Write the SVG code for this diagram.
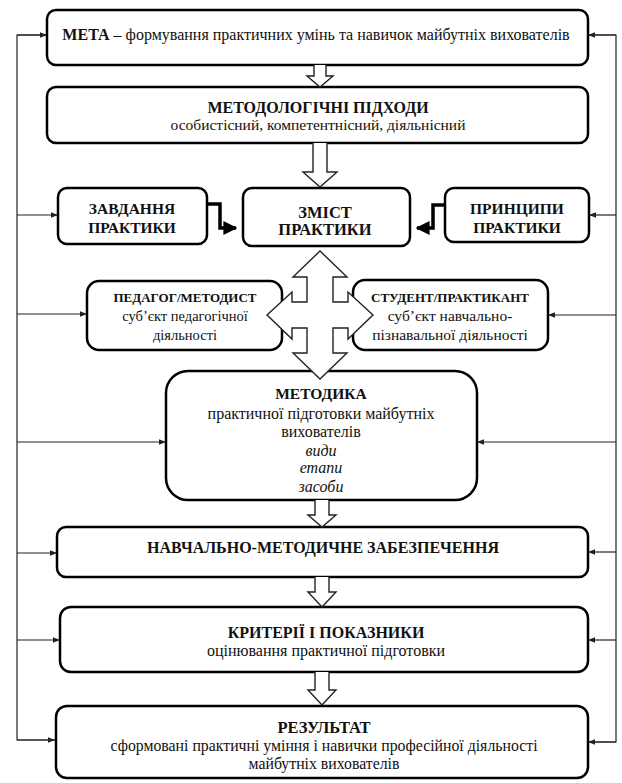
<svg xmlns="http://www.w3.org/2000/svg" width="622" height="783" viewBox="0 0 622 783">
<defs>
<marker id="ah" viewBox="0 0 10 10" refX="10" refY="5" markerWidth="8" markerHeight="7" orient="auto" markerUnits="userSpaceOnUse">
<path d="M0,1 L10,5 L0,9 Z" fill="#222"/>
</marker>
<marker id="ahb" viewBox="0 0 10 10" refX="9" refY="5" markerWidth="4" markerHeight="4" orient="auto">
<path d="M0,0 L10,5 L0,10 Z" fill="#000"/>
</marker>
<style>
.box{fill:#fff;stroke:#000;stroke-width:2.5}
.t{fill:#111;text-anchor:middle}
.b{font-weight:bold}
.i{font-style:italic}
.fb{fill:none;stroke:#222;stroke-width:1.2}
.blk{fill:#fff;stroke:#222;stroke-width:1.4;stroke-linejoin:miter}
.el{fill:none;stroke:#000;stroke-width:3.5}
</style>
</defs>
<rect width="622" height="783" fill="#fff"/>

<g id="connectors">
<polyline class="fb" points="47,35 17,35 17,740 55,740"/>
<polyline class="fb" points="588,35 616,35 616,742 588,742"/>
<line class="fb" x1="17" y1="35" x2="47" y2="35" marker-end="url(#ah)"/>
<line class="fb" x1="17" y1="740" x2="55" y2="740" marker-end="url(#ah)"/>
<line class="fb" x1="616" y1="35" x2="588" y2="35" marker-end="url(#ah)"/>
<line class="fb" x1="616" y1="742" x2="588" y2="742" marker-end="url(#ah)"/>
<line class="fb" x1="17" y1="215" x2="58" y2="215" marker-end="url(#ah)"/>
<line class="fb" x1="616" y1="215" x2="589" y2="215" marker-end="url(#ah)"/>
<line class="fb" x1="17" y1="314" x2="87" y2="314" marker-end="url(#ah)"/>
<line class="fb" x1="616" y1="315" x2="548" y2="315" marker-end="url(#ah)"/>
<line class="fb" x1="17" y1="442" x2="166" y2="442" marker-end="url(#ah)"/>
<line class="fb" x1="616" y1="442" x2="477" y2="442" marker-end="url(#ah)"/>
<line class="fb" x1="17" y1="553" x2="57" y2="553" marker-end="url(#ah)"/>
<line class="fb" x1="616" y1="552" x2="588" y2="552" marker-end="url(#ah)"/>
<line class="fb" x1="17" y1="640" x2="60" y2="640" marker-end="url(#ah)"/>
<line class="fb" x1="616" y1="640" x2="588" y2="640" marker-end="url(#ah)"/>
<polyline class="el" points="207,204 220,204 220,228 236,228" marker-end="url(#ahb)"/>
<polyline class="el" points="445,205 433,205 433,228 417,228" marker-end="url(#ahb)"/>
</g>

<g font-family="Liberation Serif, DejaVu Serif, Noto Serif, Times New Roman, serif">
<g id="n-meta">
<rect class="box" x="47" y="10" width="541" height="55" rx="9"/>
<text class="t" x="316" y="40" font-size="16"><tspan class="b">МЕТА</tspan> – формування практичних умінь та навичок майбутніх вихователів</text>
</g>
<g id="n-pidkhody">
<rect class="box" x="47" y="87" width="541" height="56" rx="9"/>
<text class="t b" x="318" y="112.5" font-size="16">МЕТОДОЛОГІЧНІ ПІДХОДИ</text>
<text class="t" x="318" y="130" font-size="15.5">особистісний, компетентнісний, діяльнісний</text>
</g>
<g id="n-zavdannia">
<rect class="box" x="58" y="188" width="149" height="56" rx="9"/>
<text class="t b" x="132" y="213.5" font-size="15.5">ЗАВДАННЯ</text>
<text class="t b" x="132" y="233" font-size="15.5">ПРАКТИКИ</text>
</g>
<g id="n-zmist">
<rect class="box" x="243" y="188" width="167" height="58" rx="9" stroke-width="3.5"/>
<text class="t b" x="325" y="217.5" font-size="16.5">ЗМІСТ</text>
<text class="t b" x="325" y="235" font-size="16.5">ПРАКТИКИ</text>
</g>
<g id="n-pryntsypy">
<rect class="box" x="445" y="188" width="144" height="54" rx="9"/>
<text class="t b" x="517" y="213.5" font-size="15.5">ПРИНЦИПИ</text>
<text class="t b" x="517" y="233" font-size="15.5">ПРАКТИКИ</text>
</g>
<g id="n-pedagog">
<rect class="box" x="87" y="281" width="195" height="69" rx="12"/>
<text class="t b" x="185" y="301.5" font-size="13">ПЕДАГОГ/МЕТОДИСТ</text>
<text class="t" x="185" y="321" font-size="14.5">суб’єкт педагогічної</text>
<text class="t" x="185" y="339.5" font-size="14.5">діяльності</text>
</g>
<g id="n-student">
<rect class="box" x="353" y="280" width="195" height="70" rx="12"/>
<text class="t b" x="450" y="301.5" font-size="13">СТУДЕНТ/ПРАКТИКАНТ</text>
<text class="t" x="450" y="321" font-size="15.5">суб’єкт навчально-</text>
<text class="t" x="450" y="339.5" font-size="15.5">пізнавальної діяльності</text>
</g>
<g id="n-metodyka">
<rect class="box" x="166" y="371" width="311" height="129" rx="22"/>
<text class="t b" x="321" y="399" font-size="15.5">МЕТОДИКА</text>
<text class="t" x="321" y="418.5" font-size="16">практичної підготовки майбутніх</text>
<text class="t" x="321" y="437" font-size="16">вихователів</text>
<text class="t i" x="321" y="455.5" font-size="16">види</text>
<text class="t i" x="321" y="472.5" font-size="16">етапи</text>
<text class="t i" x="321" y="491.5" font-size="16">засоби</text>
</g>
<g id="n-zabezpechennia">
<rect class="box" x="57" y="527" width="531" height="50" rx="9"/>
<text class="t b" x="323" y="552.5" font-size="16">НАВЧАЛЬНО-МЕТОДИЧНЕ ЗАБЕЗПЕЧЕННЯ</text>
</g>
<g id="n-kryterii">
<rect class="box" x="60" y="607" width="528" height="65" rx="11"/>
<text class="t b" x="326" y="638" font-size="16">КРИТЕРІЇ І ПОКАЗНИКИ</text>
<text class="t" x="326" y="656" font-size="16">оцінювання практичної підготовки</text>
</g>
<g id="n-rezultat">
<rect class="box" x="56" y="706" width="532" height="72" rx="11" stroke-width="5"/>
<text class="t b" x="324" y="733" font-size="16.5">РЕЗУЛЬТАТ</text>
<text class="t" x="324" y="751" font-size="15.8">сформовані практичні уміння і навички професійної діяльності</text>
<text class="t" x="324" y="769" font-size="15.8">майбутніх вихователів</text>
</g>
</g>

<g id="block-arrows">
<path class="blk" d="M314,65 V76 H307 L320,87 L333,76 H326 V65"/>
<path class="blk" d="M313,143 V172 H303 L320,187 L337,172 H327 V143"/>
<path class="blk" d="M307,277 H293 L320,251 L347,277 H333 V302 H348 V292 L373,315 L348,339 V328 H333 V353 H347 L320,379 L293,353 H307 V328 H292 V339 L267,315 L292,292 V302 H307 Z"/>
<path class="blk" d="M315,500 V515 H308 L322,527 L336,515 H329 V500"/>
<path class="blk" d="M315,577 V592 H308 L322,607 L336,592 H329 V577"/>
<path class="blk" d="M315,672 V690 H308 L322,705 L336,690 H329 V672"/>
</g>
</svg>
